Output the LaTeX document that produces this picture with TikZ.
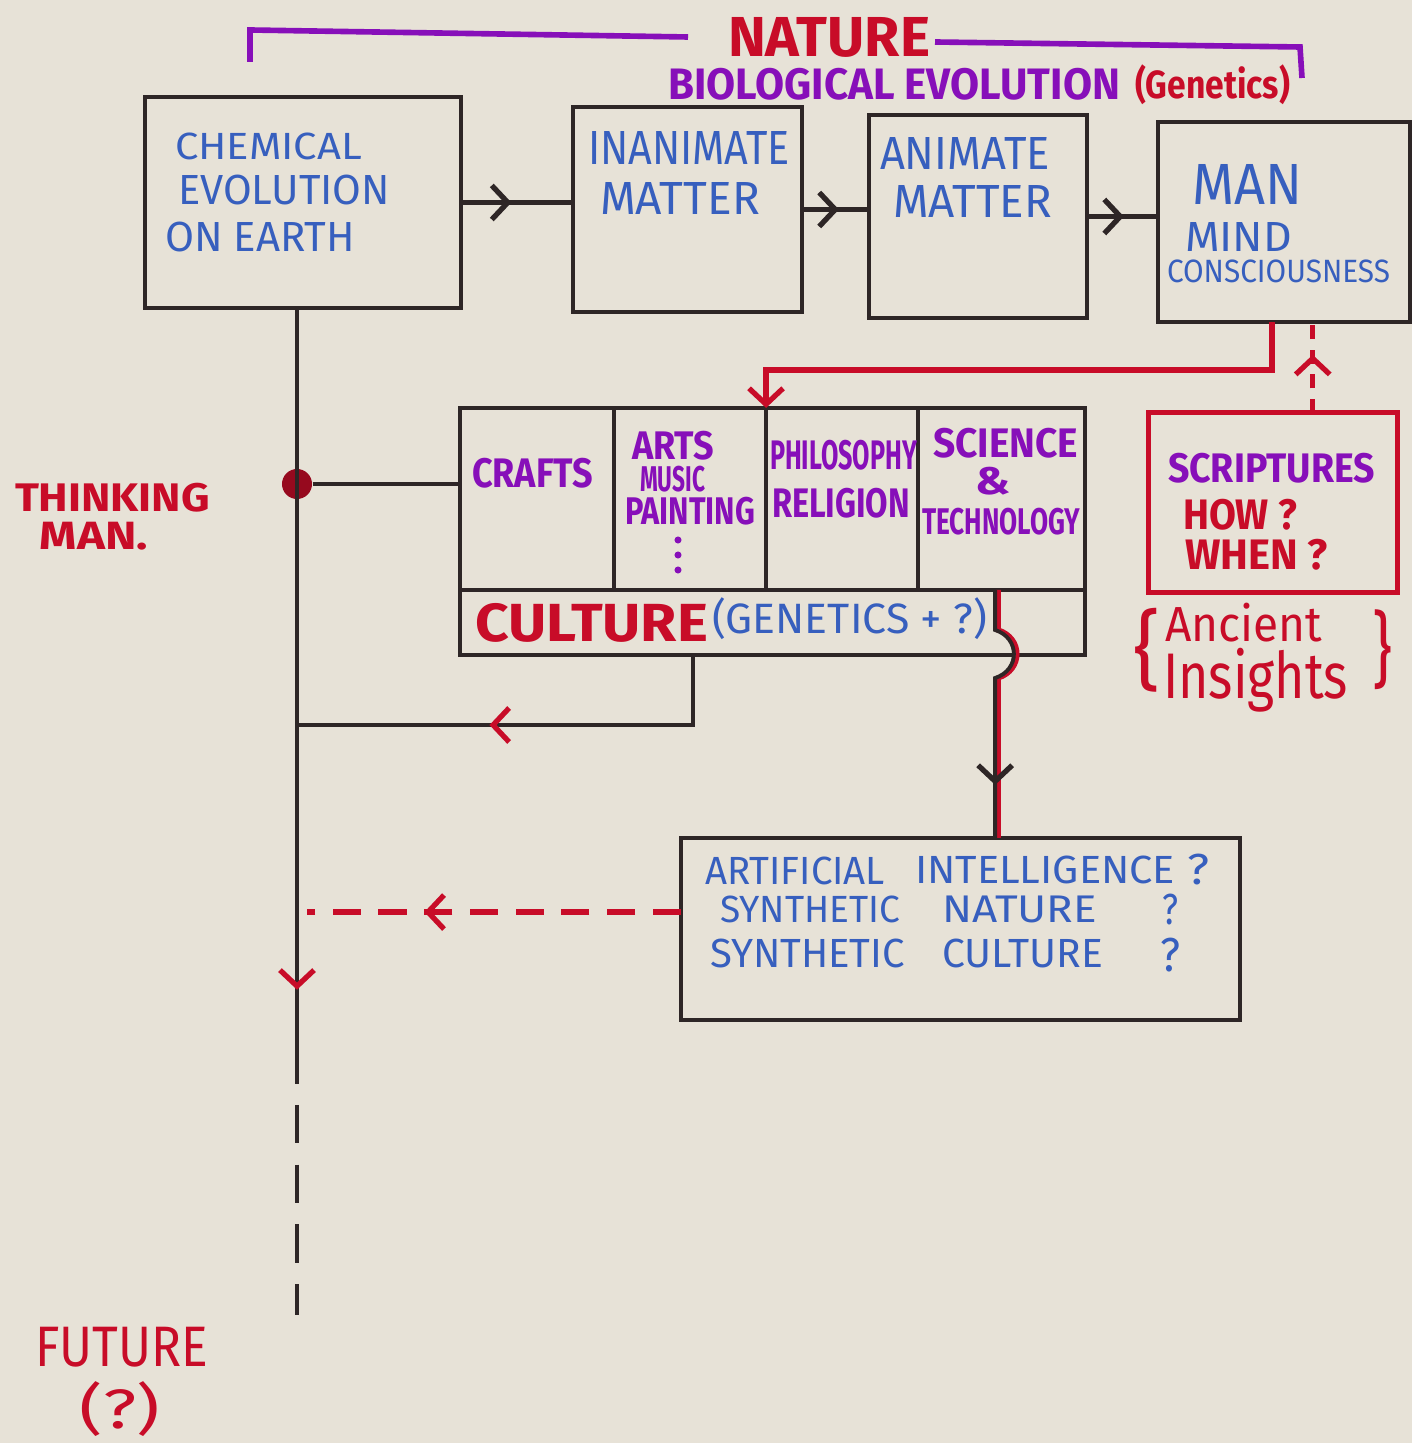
\documentclass[tikz,border=0pt]{standalone}
\usepackage{fontspec}
\setmainfont{Fira Sans}
\usepackage{graphicx}
\usetikzlibrary{arrows.meta,decorations.markings,calc}
\newlength\pxu \setlength\pxu{0.01cm}
\newcommand\hwtext[3]{\resizebox*{#1\pxu}{#2\pxu}{#3}}
\definecolor{paper}{RGB}{231,226,215}
\definecolor{ink}{RGB}{46,38,38}
\definecolor{bluepen}{RGB}{55,95,190}
\definecolor{purplepen}{RGB}{135,15,185}
\definecolor{redpen}{RGB}{200,12,40}
\begin{document}
\begin{tikzpicture}[x=0.01cm,y=-0.01cm,
  box/.style={draw=ink,line width=1.2pt,inner sep=0pt,outer sep=0pt},
  lbl/.style={anchor=south west,inner sep=0pt,outer sep=0pt},
  bt/.style={lbl,text=bluepen,font=\normalfont},
  pt/.style={lbl,text=purplepen,font=\bfseries},
  rt/.style={lbl,text=redpen,font=\bfseries},
  blk/.style={draw=ink,line width=1.2pt},
  redline/.style={draw=redpen,line width=1.5pt},
  tipat/.style 2 args={postaction={decorate},decoration={markings,
    mark=at position #1 with {\arrow[#2,line width=1.5pt]{Straight Barb[length=1.6mm,width=3.4mm]}}}}
]
\useasboundingbox (0,0) rectangle (1412,1443);
\fill[paper] (0,0) rectangle (1412,1443);

% boxes
\node[box,minimum width=3.16cm,minimum height=2.11cm] (chem) at (303,202.5) {};
\node[box,minimum width=2.29cm,minimum height=2.05cm] (inanim) at (687.5,209.5) {};
\node[box,minimum width=2.18cm,minimum height=2.03cm] (anim) at (978,216.5) {};
\node[box,minimum width=2.52cm,minimum height=2.00cm] (man) at (1284,222) {};
\node[box,minimum width=1.54cm,minimum height=1.82cm] (c1) at (537,499) {};
\node[box,minimum width=1.52cm,minimum height=1.82cm] (c2) at (690,499) {};
\node[box,minimum width=1.52cm,minimum height=1.82cm] (c3) at (842,499) {};
\node[box,minimum width=1.67cm,minimum height=1.82cm] (c4) at (1001.5,499) {};
\node[box,minimum width=6.25cm,minimum height=0.65cm] (cb) at (772.5,622.5) {};
\node[box,draw=redpen,line width=1.4pt,minimum width=2.48cm,minimum height=1.79cm] (scrip) at (1273,502.5) {};
\node[box,minimum width=5.59cm,minimum height=1.82cm] (ai) at (960.5,929) {};
\node[circle,fill=redpen!75!black,minimum size=0.3cm,inner sep=0pt] (dot) at (297,484) {};

% purple bracket
\coordinate (brA) at (250,62);
\coordinate (brB) at (250,30);
\coordinate (brC) at (688,37);
\coordinate (brD) at (935,42);
\coordinate (brE) at (1300,47);
\coordinate (brF) at (1302,78);
\draw[purplepen,line width=1.6pt] (brA) -- (brB) -- (brC);
\draw[purplepen,line width=1.6pt] (brD) -- (brE) -- (brF);

% top arrows
\draw[blk,tipat={0.45}{ink}] (chem.east) -- (chem.east -| inanim.west);
\draw[blk,tipat={0.55}{ink}] (inanim.east) -- (inanim.east -| anim.west);
\draw[blk,tipat={0.52}{ink}] (anim.east) -- (anim.east -| man.west);

% main time line
\coordinate (lineend) at (297,1045);
\coordinate (futend) at (297,1315);
\draw[blk,tipat={0.925}{redpen}] (dot |- chem.south) -- (lineend);
\draw[blk,dash pattern=on 11pt off 6pt] (lineend) -- (futend);
\draw[blk] (dot) -- (dot -| c1.west);

% culture back to line
\coordinate (cbo) at ($(cb.south west)!0.373!(cb.south east)$);
\draw[blk,tipat={0.587}{redpen}] (cbo) |- (dot |- 0,725);

% man to culture
\coordinate (mo) at ($(man.south west)!0.452!(man.south east)$);
\draw[redline,-{Straight Barb[length=1.6mm,width=3.4mm]}] (mo) |- ($(c2.north east)+(0,-38)$) -- (c2.north east);

% scriptures to man
\coordinate (sq) at ($(scrip.north west)!0.66!(scrip.north east)$);
\draw[redpen,line width=1.4pt,dash pattern=on 4pt off 3pt,tipat={0.64}{redpen}] (sq) -- (sq |- man.south);

% culture to AI
\coordinate (cs) at ($(cb.north west)!0.856!(cb.north east)$);
\draw[redline] ($(cs)+(3,0)$) -- ++(0,40) .. controls +(25,8) and +(25,-8) .. ++(0,48) -- ($(cs |- ai.north)+(3,0)$);
\draw[draw=ink,line width=1.1pt,tipat={0.8}{ink}] (cs) -- ++(0,40) .. controls +(25,8) and +(25,-8) .. ++(0,48) -- (cs |- ai.north);

% AI to line
\coordinate (aw) at ($(ai.north west)!0.407!(ai.south west)$);
\draw[redpen,line width=1.5pt,dash pattern=on 8pt off 5pt,tipat={0.686}{redpen}] (aw) -- ($(dot |- aw)+(10,0)$);

% texts
\node[rt] (tnature) at (728,57) {\hwtext{202}{40}{NATURE}};
\node[pt] (tbio) at (668,100) {\hwtext{452}{32}{BIOLOGICAL EVOLUTION}};
\node[rt] (tgen) at (1135,105) {\hwtext{155}{40}{(Genetics)}};

\node[bt] (tch1) at (175,160) {\hwtext{187}{27}{CHEMICAL}};
\node[bt] (tch2) at (178,205) {\hwtext{212}{30}{EVOLUTION}};
\node[bt] (tch3) at (165,252) {\hwtext{190}{30}{ON EARTH}};
\node[bt] (tin1) at (588,165) {\hwtext{202}{33}{INANIMATE}};
\node[bt] (tin2) at (600,215) {\hwtext{160}{32}{MATTER}};
\node[bt] (tan1) at (880,170) {\hwtext{170}{32}{ANIMATE}};
\node[bt] (tan2) at (893,218) {\hwtext{159}{32}{MATTER}};
\node[bt] (tman) at (1192,205) {\hwtext{110}{40}{MAN}};
\node[bt] (tmind) at (1185,252) {\hwtext{107}{29}{MIND}};
\node[bt] (tcons) at (1167,283) {\hwtext{223}{23}{CONSCIOUSNESS}};

\node[pt] (tcrafts) at (472,488) {\hwtext{121}{30}{CRAFTS}};
\node[pt] (tarts) at (632,460) {\hwtext{82}{29}{ARTS}};
\node[pt] (tmusic) at (640,492) {\hwtext{65}{26}{MUSIC}};
\node[pt] (tpaint) at (625,525) {\hwtext{130}{28}{PAINTING}};
\fill[purplepen] (678,540) circle[radius=1pt] (678,555) circle[radius=1pt] (678,570) circle[radius=1pt];
\node[pt] (tphil) at (770,470) {\hwtext{147}{30}{PHILOSOPHY}};
\node[pt] (trel) at (772,518) {\hwtext{138}{30}{RELIGION}};
\node[pt] (tsci) at (933,458) {\hwtext{145}{30}{SCIENCE}};
\node[pt] (tamp) at (975,495) {\hwtext{35}{28}{\&}};
\node[pt] (ttech) at (922,535) {\hwtext{158}{27}{TECHNOLOGY}};
\node[rt] (tcult) at (475,642) {\hwtext{233}{39}{CULTURE}};
\node[bt] (tgen2) at (712,640) {\hwtext{275}{42}{(GENETICS + ?)}};

\node[pt] (tscr) at (1168,483) {\hwtext{207}{30}{SCRIPTURES}};
\node[rt] (thow) at (1183,530) {\hwtext{114}{31}{HOW ?}};
\node[rt] (twhen) at (1185,570) {\hwtext{143}{31}{WHEN ?}};
\node[lbl,text=redpen] (tlb) at (1133,692) {\hwtext{27}{84}{\{}};
\node[lbl,text=redpen] (trb) at (1372,690) {\hwtext{20}{80}{\}}};
\node[lbl,text=redpen] (tanc) at (1165,642) {\hwtext{157}{39}{Ancient}};
\node[lbl,text=redpen] (tins) at (1163,712) {\hwtext{185}{64}{Insights}};

\node[rt] (tthink) at (15,512) {\hwtext{195}{29}{THINKING}};
\node[rt] (tman2) at (40,550) {\hwtext{108}{28}{MAN.}};

\node[bt] (tai1) at (705,885) {\hwtext{180}{28}{ARTIFICIAL}};
\node[bt] (tai2) at (915,884) {\hwtext{260}{28}{INTELLIGENCE}};
\node[bt] (tai3) at (1187,885) {\hwtext{22}{31}{?}};
\node[bt] (tsn1) at (720,923) {\hwtext{180}{27}{SYNTHETIC}};
\node[bt] (tsn2) at (942,923) {\hwtext{155}{27}{NATURE}};
\node[bt] (tsn3) at (1162,925) {\hwtext{16}{31}{?}};
\node[bt] (tsc1) at (710,968) {\hwtext{195}{29}{SYNTHETIC}};
\node[bt] (tsc2) at (942,968) {\hwtext{161}{29}{CULTURE}};
\node[bt] (tsc3) at (1160,972) {\hwtext{20}{34}{?}};

\node[lbl,text=redpen] (tfut) at (35,1367) {\hwtext{173}{40}{FUTURE}};
\node[lbl,text=redpen] (tq) at (80,1437) {\hwtext{80}{55}{(?)}};
\end{tikzpicture}
\end{document}
